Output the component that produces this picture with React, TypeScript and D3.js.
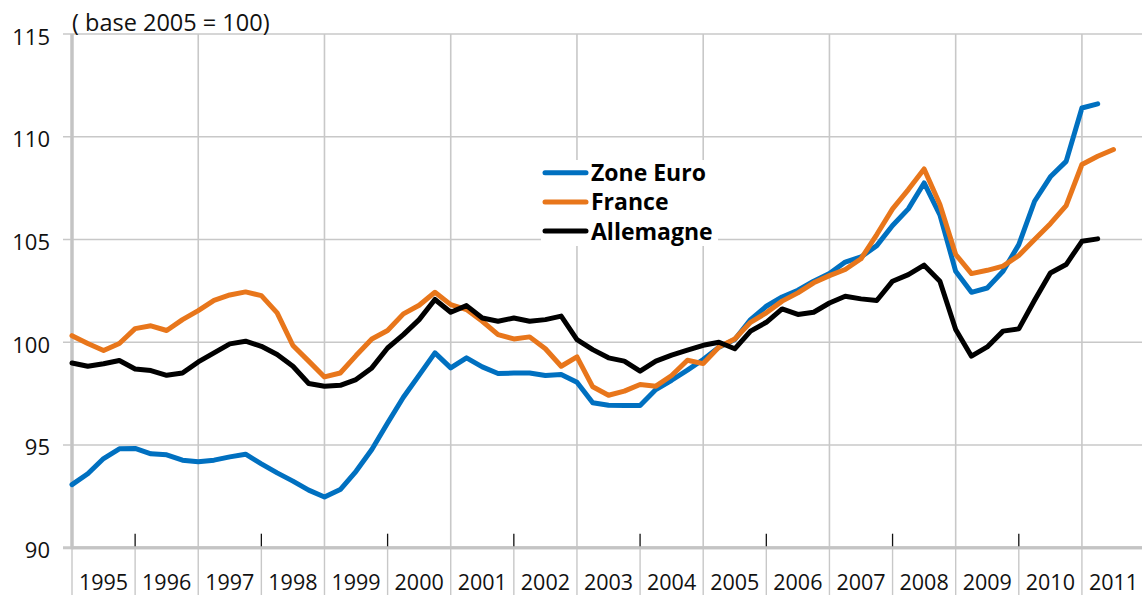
import React, { useRef, useEffect } from 'react';
import * as d3 from 'd3';

// quarterly indices, 1995Q1 onwards (base 2005 = 100)
const YEARS = [1995, 1996, 1997, 1998, 1999, 2000, 2001, 2002, 2003, 2004, 2005, 2006, 2007, 2008, 2009, 2010, 2011];
const Y_TICKS = [90, 95, 100, 105, 110, 115];

const ZONE_EURO = [
  93.07, 93.6, 94.34, 94.81, 94.83, 94.57, 94.52, 94.26, 94.18, 94.26, 94.42, 94.55,
  94.08, 93.64, 93.24, 92.8, 92.47, 92.83, 93.72, 94.78, 96.07, 97.32, 98.4, 99.48,
  98.75, 99.24, 98.8, 98.48, 98.5, 98.5, 98.38, 98.43, 98.05, 97.05, 96.93, 96.92,
  96.92, 97.7, 98.15, 98.64, 99.16, 99.76, 100.13, 101.1, 101.75, 102.2, 102.53, 102.97,
  103.34, 103.9, 104.15, 104.7, 105.68, 106.49, 107.75, 106.2, 103.45, 102.43, 102.64, 103.45,
  104.75, 106.86, 108.05, 108.8, 111.4, 111.6,
];

const FRANCE = [
  100.32, 99.94, 99.6, 99.94, 100.66, 100.8, 100.57, 101.1, 101.54, 102.04, 102.3, 102.45,
  102.27, 101.43, 99.84, 99.08, 98.31, 98.5, 99.35, 100.16, 100.57, 101.38, 101.8, 102.43,
  101.83, 101.59, 101.02, 100.37, 100.16, 100.26, 99.68, 98.83, 99.29, 97.83, 97.42, 97.62,
  97.94, 97.86, 98.38, 99.12, 98.96, 99.77, 100.16, 100.97, 101.43, 102.0, 102.4, 102.89,
  103.24, 103.54, 104.06, 105.24, 106.49, 107.43, 108.43, 106.7, 104.27, 103.34, 103.5, 103.7,
  104.22, 105.0, 105.77, 106.65, 108.65, 109.05, 109.38,
];

const ALLEMAGNE = [
  98.99, 98.83, 98.95, 99.11, 98.7, 98.62, 98.39, 98.5, 99.04, 99.48, 99.92, 100.05,
  99.8, 99.4, 98.83, 97.99, 97.86, 97.9, 98.18, 98.75, 99.72, 100.37, 101.1, 102.08,
  101.46, 101.78, 101.18, 101.02, 101.18, 101.02, 101.1, 101.27, 100.13, 99.64, 99.24, 99.08,
  98.59, 99.08, 99.37, 99.61, 99.85, 100.0, 99.68, 100.54, 100.97, 101.62, 101.35, 101.46,
  101.91, 102.24, 102.11, 102.03, 102.97, 103.29, 103.75, 102.97, 100.62, 99.32, 99.77, 100.54,
  100.65, 102.04, 103.37, 103.78, 104.91, 105.03,
];

const SERIES = [
  { name: 'Zone Euro', color: '#0070c0', values: ZONE_EURO },
  { name: 'France', color: '#e8761b', values: FRANCE },
  { name: 'Allemagne', color: '#000000', values: ALLEMAGNE },
];

const WIDTH = 1142;
const HEIGHT = 595;
const FONT = '"Open Sans", "Noto Sans", sans-serif';

export default function App() {
  const svgRef = useRef<SVGSVGElement>(null);

  useEffect(() => {
    if (!svgRef.current) return;
    const svg = d3.select(svgRef.current);
    svg.selectAll('*').remove();

    const left = 72;
    const step = 15.78; // one quarter
    const nQuarters = YEARS.length * 4;
    const x = d3.scaleLinear().domain([0, nQuarters]).range([left, left + nQuarters * step]);
    const y = d3.scaleLinear().domain([90, 115]).range([547.7, 34]);
    const gridColor = '#c8c8c8';

    // horizontal gridlines + small ticks
    Y_TICKS.forEach((t) => {
      svg.append('line')
        .attr('x1', 63).attr('x2', WIDTH)
        .attr('y1', y(t)).attr('y2', y(t))
        .attr('stroke', gridColor)
        .attr('stroke-width', t === 90 ? 3 : 1.6);
      svg.append('text')
        .attr('x', 50).attr('y', y(t) + 10.5)
        .attr('text-anchor', 'end')
        .attr('font-family', FONT)
        .attr('font-size', 22)
        .attr('fill', '#111')
        .text(t);
    });

    // vertical year separators: gridline every 2 years, black tick otherwise
    d3.range(YEARS.length + 1).forEach((k) => {
      const xx = x(k * 4);
      if (k % 2 === 0) {
        svg.append('line')
          .attr('x1', xx).attr('x2', xx)
          .attr('y1', y(115)).attr('y2', y(90))
          .attr('stroke', gridColor)
          .attr('stroke-width', k === 0 ? 3 : 1.6);
      } else {
        svg.append('line')
          .attr('x1', xx).attr('x2', xx)
          .attr('y1', y(90) - 14).attr('y2', y(90))
          .attr('stroke', '#111')
          .attr('stroke-width', 1.3);
      }
      svg.append('line')
        .attr('x1', xx).attr('x2', xx)
        .attr('y1', y(90)).attr('y2', HEIGHT)
        .attr('stroke', gridColor)
        .attr('stroke-width', 1.4);
    });

    // year labels
    YEARS.forEach((yr, k) => {
      svg.append('text')
        .attr('x', x(k * 4 + 2)).attr('y', 590)
        .attr('text-anchor', 'middle')
        .attr('font-family', FONT)
        .attr('font-size', 21.5)
        .attr('fill', '#111')
        .text(yr);
    });

    // axis lines on top of grid
    svg.append('line')
      .attr('x1', left).attr('x2', left)
      .attr('y1', y(115)).attr('y2', y(90) + 1.5)
      .attr('stroke', '#c4c4c4').attr('stroke-width', 3);
    svg.append('line')
      .attr('x1', left).attr('x2', WIDTH)
      .attr('y1', y(90)).attr('y2', y(90))
      .attr('stroke', '#c4c4c4').attr('stroke-width', 3);

    svg.append('text')
      .attr('x', 72).attr('y', 31)
      .attr('font-family', FONT)
      .attr('font-size', 23.5)
      .attr('fill', '#111')
      .text('( base 2005 = 100)');

    const line = d3.line<number>()
      .x((_d, i) => x(i))
      .y((d) => y(d));

    SERIES.forEach((s) => {
      svg.append('path')
        .datum(s.values)
        .attr('d', line)
        .attr('fill', 'none')
        .attr('stroke', s.color)
        .attr('stroke-width', 5)
        .attr('stroke-linejoin', 'round')
        .attr('stroke-linecap', 'round');
    });

    // legend
    const lg = svg.append('g');
    lg.append('rect')
      .attr('x', 541).attr('y', 160)
      .attr('width', 177).attr('height', 86)
      .attr('fill', 'white');
    SERIES.forEach((s, i) => {
      const ly = 172.7 + i * 29.2;
      lg.append('line')
        .attr('x1', 545).attr('x2', 586)
        .attr('y1', ly).attr('y2', ly)
        .attr('stroke', s.color)
        .attr('stroke-width', 5)
        .attr('stroke-linecap', 'round');
      lg.append('text')
        .attr('x', 591).attr('y', ly + 8.5)
        .attr('font-family', FONT)
        .attr('font-weight', 700)
        .attr('font-size', 23)
        .attr('fill', '#000')
        .text(s.name);
    });
  }, []);

  return (
    <svg
      ref={svgRef}
      width={WIDTH}
      height={HEIGHT}
      style={{ position: 'absolute', left: 0, top: 0, background: 'white' }}
    />
  );
}
